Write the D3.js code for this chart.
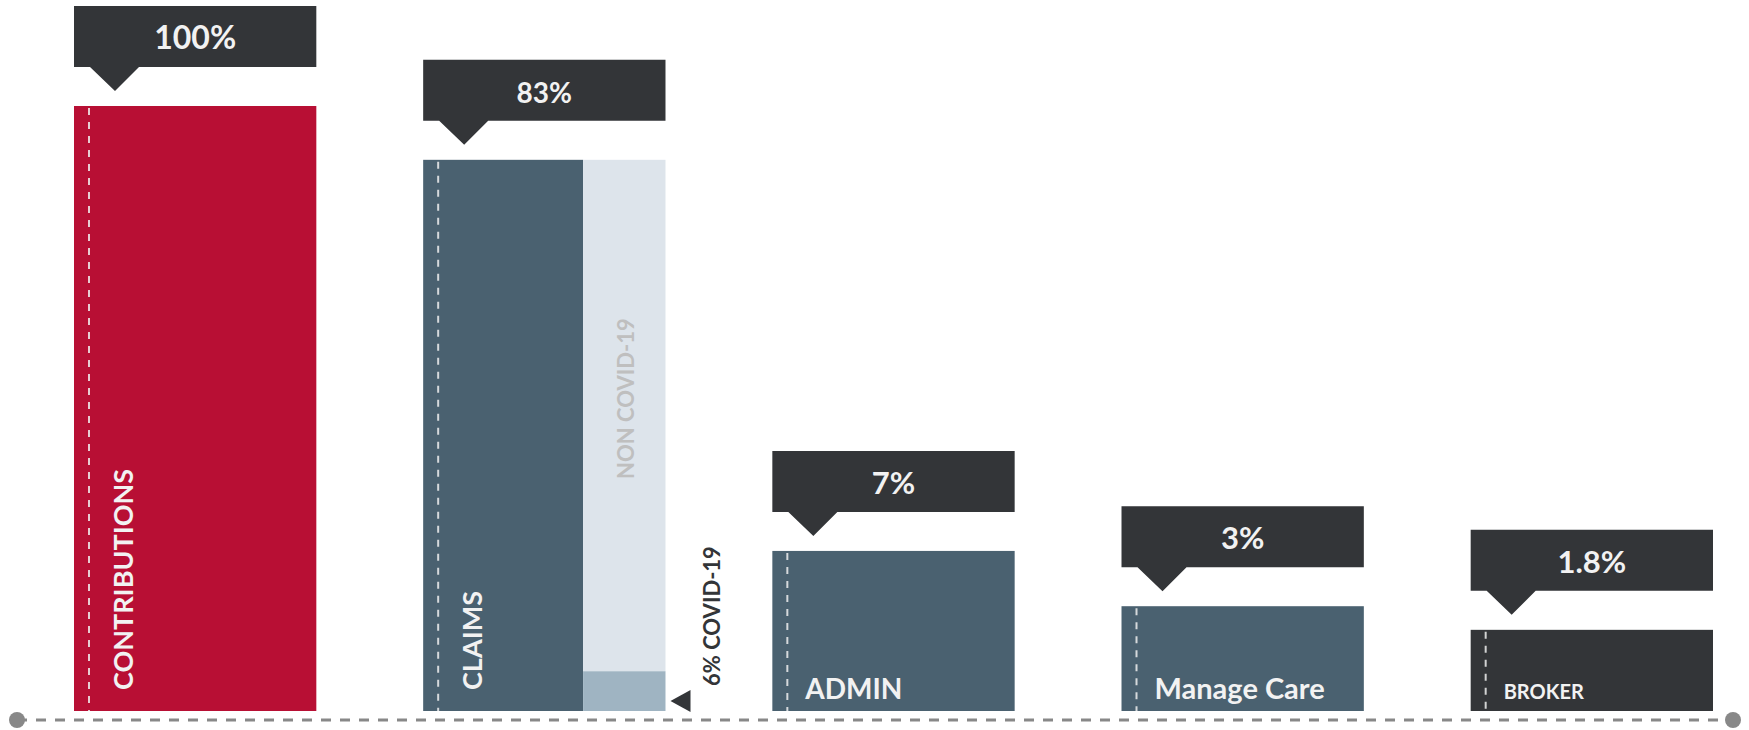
<!DOCTYPE html>
<html>
<head>
<meta charset="utf-8">
<script src="https://cdn.jsdelivr.net/npm/d3@7/dist/d3.min.js"></script>
<style>
  html, body { margin: 0; padding: 0; background: #ffffff; }
  svg { display: block; }
  text { font-family: Lato, "Open Sans", "DejaVu Sans", sans-serif; font-weight: 700; }
</style>
</head>
<body>
<svg id="chart" width="1749" height="730"></svg>
<script>
// ---- data ----
const categories = ["CONTRIBUTIONS", "CLAIMS", "ADMIN", "Manage Care", "BROKER"];
const shares = [100, 83, 7, 3, 1.8];
const shareLabels = ["100%", "83%", "7%", "3%", "1.8%"];
const claimsSplit = ["COVID-19", "NON COVID-19"];
const claimsSplitValues = [6, 77];
const covidLabel = "6% COVID-19";

// ---- styling ----
const barFills = ["#b80f34", "#4a6170", "#4a6170", "#4a6170", "#333538"];
const labelVertical = [true, true, false, false, false];
const labelSizes = [27, 27, 28, 29, 20];
const calloutSizes = [32, 28, 31, 31, 31];
const calloutFill = "#333538";

const baseY = 711;
const svg = d3.select("#chart");

const x = d3.scaleBand()
  .domain(categories)
  .range([74, 1713])
  .paddingInner(0.306)
  .paddingOuter(0);

const h = d3.scaleSqrt().domain([0, 100]).range([0, 605]);

const rows = categories.map((c, i) => ({
  cat: c, value: shares[i], label: shareLabels[i], fill: barFills[i],
  vertical: labelVertical[i], size: labelSizes[i], csize: calloutSizes[i], i
}));

const bw = x.bandwidth();

// baseline with end dots
const axisG = svg.append("g");
axisG.append("line")
  .attr("x1", 17).attr("x2", 1733).attr("y1", 720).attr("y2", 720)
  .attr("stroke", "#888888").attr("stroke-width", 3)
  .attr("stroke-dasharray", "10 9");
axisG.selectAll("circle").data([17, 1733]).join("circle")
  .attr("cx", d => d).attr("cy", 720).attr("r", 8).attr("fill", "#888888");

// bars
const g = svg.append("g");
const bars = g.selectAll("g.bar").data(rows).join("g").attr("class", "bar");

const claimsMain = 0.66;
bars.append("rect")
  .attr("x", d => x(d.cat))
  .attr("y", d => baseY - h(d.value))
  .attr("width", d => d.cat === "CLAIMS" ? bw * claimsMain : bw)
  .attr("height", d => h(d.value))
  .attr("fill", d => d.fill);

// claims split column (COVID-19 / NON COVID-19)
const claims = rows[1];
const claimsH = h(claims.value);
const splitX = x("CLAIMS") + bw * claimsMain;
const splitW = bw * (1 - claimsMain);
const seg = d3.scaleLinear().domain([0, claims.value]).range([0, claimsH]);
const stack = [];
let acc = 0;
claimsSplitValues.forEach((v, k) => { stack.push({ name: claimsSplit[k], y0: acc, y1: acc + v }); acc += v; });
g.selectAll("rect.split").data(stack).join("rect")
  .attr("class", "split")
  .attr("x", splitX)
  .attr("width", splitW)
  .attr("y", d => baseY - seg(d.y1))
  .attr("height", d => seg(d.y1) - seg(d.y0))
  .attr("fill", (d, k) => k === 0 ? "#9fb4c2" : "#dde4eb");

// dashed guide inside each bar
bars.append("line")
  .attr("x1", d => x(d.cat) + 15).attr("x2", d => x(d.cat) + 15)
  .attr("y1", d => baseY - h(d.value) + 2).attr("y2", baseY)
  .attr("stroke", "#eeeeee").attr("stroke-opacity", 0.85)
  .attr("stroke-width", 2).attr("stroke-dasharray", "7 7");

// in-bar labels
bars.append("text")
  .text(d => d.cat)
  .attr("fill", "#f2f2f2")
  .attr("font-size", d => d.size)
  .attr("transform", d => d.vertical
    ? `translate(${x(d.cat) + 59},${baseY - 21}) rotate(-90)`
    : `translate(${x(d.cat) + 33},${baseY - 12})`);

// NON COVID-19 label
g.append("text")
  .text(claimsSplit[1])
  .attr("fill", "#bfbfbf")
  .attr("font-size", 22)
  .attr("transform", `translate(${splitX + 51},${479}) rotate(-90)`);

// COVID-19 marker and label
const covidMid = baseY - seg(claimsSplitValues[0]) / 2 + 10;
const triX = x("CLAIMS") + bw + 5;
g.append("path")
  .attr("d", `M${triX},${covidMid} L${triX + 20},${covidMid - 11} L${triX + 20},${covidMid + 11} Z`)
  .attr("fill", "#333538");
g.append("text")
  .text(covidLabel)
  .attr("fill", "#333538")
  .attr("font-size", 22)
  .attr("transform", `translate(${x("CLAIMS") + bw + 55},${baseY - 25}) rotate(-90)`);

// callouts above bars
const callouts = svg.append("g").selectAll("g").data(rows).join("g");
callouts.append("path")
  .attr("fill", calloutFill)
  .attr("d", d => {
    const x0 = x(d.cat), top = baseY - h(d.value);
    const by = top - 39, bt = by - 61;
    return `M${x0},${bt} H${x0 + bw} V${by} H${x0 + 65} L${x0 + 41},${top - 15} L${x0 + 16},${by} H${x0} Z`;
  });
callouts.append("text")
  .text(d => d.label)
  .attr("fill", "#f2f2f2")
  .attr("font-size", d => d.csize)
  .attr("text-anchor", "middle")
  .attr("x", d => x(d.cat) + bw / 2)
  .attr("y", d => baseY - h(d.value) - 100 + 43);
</script>
</body>
</html>
